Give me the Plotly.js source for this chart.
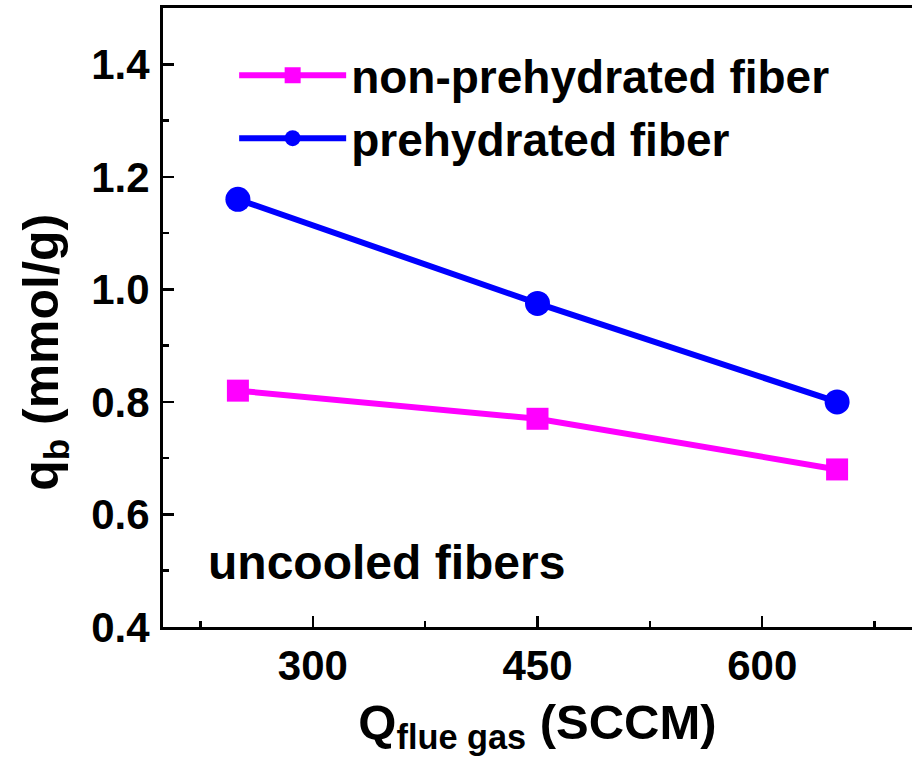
<!DOCTYPE html>
<html>
<head>
<meta charset="utf-8">
<script src="https://cdn.plot.ly/plotly-3.0.1.min.js"></script>
<style>html,body{margin:0;padding:0;background:#fff;}</style>
</head>
<body>
<div id="chart" style="width:912px;height:778px;"></div>
<script>
// Data
const flowRates = [250, 450, 650];            // Q flue gas (SCCM)
const nonPrehydrated = [0.82, 0.77, 0.68];    // q_b (mmol/g)
const prehydrated = [1.16, 0.975, 0.80];      // q_b (mmol/g)
const seriesNames = ["non-prehydrated fiber", "prehydrated fiber"];
const xTickVals = [300, 450, 600];
const yTickVals = [0.4, 0.6, 0.8, 1.0, 1.2, 1.4];

const FONT = "Liberation Sans, Arial, sans-serif";

const traces = [
  {
    x: flowRates, y: nonPrehydrated, name: seriesNames[0],
    type: "scatter", mode: "lines+markers",
    line: {color: "#FF00FF", width: 6},
    marker: {symbol: "square", size: 22, color: "#FF00FF"}
  },
  {
    x: flowRates, y: prehydrated, name: seriesNames[1],
    type: "scatter", mode: "lines+markers",
    line: {color: "#0000FF", width: 6},
    marker: {symbol: "circle", size: 25, color: "#0000FF"}
  }
];

const layout = {
  width: 912, height: 778,
  margin: {l: 163, r: 0, t: 8, b: 151},
  paper_bgcolor: "#fff", plot_bgcolor: "#fff",
  font: {family: FONT, color: "#000", weight: 700},
  showlegend: true,
  legend: {
    x: 0.095, y: 0.95, xanchor: "left", yanchor: "top",
    bgcolor: "rgba(0,0,0,0)",
    itemwidth: 107,
    font: {family: FONT, size: 46, color: "#000", weight: 700},
    tracegroupgap: 0
  },
  xaxis: {
    range: [200, 700],
    tickmode: "array", tickvals: xTickVals, ticktext: xTickVals.map(String),
    ticks: "inside", ticklen: 11, tickwidth: 2.5, tickcolor: "#000",
    minor: {ticks: "inside", dtick: 75, tick0: 0, ticklen: 6, tickwidth: 2.5, tickcolor: "#000"},
    showline: true, linewidth: 3, linecolor: "#000", mirror: true,
    showgrid: false, zeroline: false,
    tickfont: {family: FONT, size: 42, color: "#000", weight: 700},
    title: {
      text: "Q<sub>flue gas</sub> (SCCM)",
      font: {family: FONT, size: 49, color: "#000", weight: 700},
      standoff: 17
    }
  },
  yaxis: {
    range: [0.4, 1.5],
    tickmode: "array", tickvals: yTickVals, ticktext: yTickVals.map(v => v.toFixed(1)),
    ticks: "inside", ticklen: 11, tickwidth: 2.5, tickcolor: "#000",
    minor: {ticks: "inside", dtick: 0.1, tick0: 0, ticklen: 6, tickwidth: 2.5, tickcolor: "#000"},
    showline: true, linewidth: 3, linecolor: "#000", mirror: false,
    showgrid: false, zeroline: false,
    tickfont: {family: FONT, size: 42, color: "#000", weight: 700},
    ticklabelstandoff: 2
  },
  annotations: [
    {
      text: "q<sub>b</sub> (mmol/g)", textangle: -90,
      xref: "paper", yref: "paper", x: -0.158, y: 0.444,
      xanchor: "center", yanchor: "middle", showarrow: false,
      font: {family: FONT, size: 50, color: "#000", weight: 700}
    },
    {
      text: "uncooled fibers",
      xref: "paper", yref: "paper", x: 0.057, y: 0.105,
      xanchor: "left", yanchor: "middle", showarrow: false,
      font: {family: FONT, size: 48, color: "#000", weight: 700}
    }
  ]
};

Plotly.newPlot("chart", traces, layout, {displayModeBar: false, staticPlot: true});
</script>
</body>
</html>
